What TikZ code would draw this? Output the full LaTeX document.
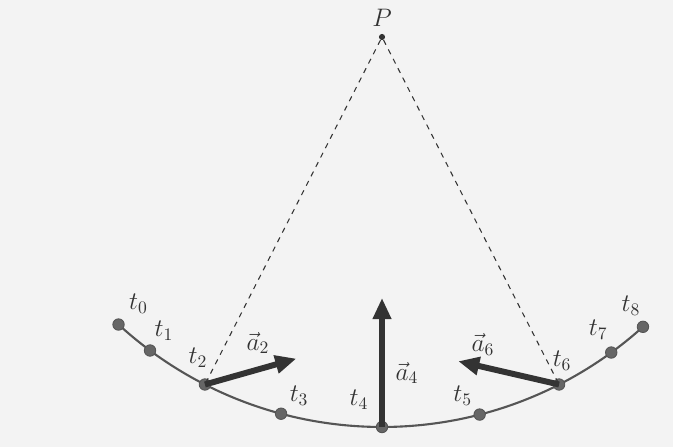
\documentclass[tikz,border=0pt]{standalone}
\usetikzlibrary{arrows.meta,calc}
\definecolor{paper}{HTML}{F3F3F3}
\definecolor{ink}{HTML}{333333}
\definecolor{arcgray}{HTML}{555555}
\definecolor{dotgray}{HTML}{666666}
\tikzset{
  every node/.style={font=\Large, text=ink},
  swing/.style={draw=arcgray, line width=1.2pt},
  dot/.style={circle, fill=dotgray, draw=arcgray, line width=0.5pt, inner sep=0pt, minimum size=6.5pt},
  pivot/.style={circle, fill=ink, inner sep=0pt, minimum size=3.5pt},
  guide/.style={draw=ink, dashed, line width=0.6pt},
  acc/.style={draw=ink, line width=3.4pt, -{Triangle[length=12pt, width=10pt]}},
  tlbl/.style={inner sep=1pt},
  vlbl/.style={inner sep=1pt},
}

\begin{document}
\begin{tikzpicture}
  \path[fill=paper, use as bounding box] (0,0) rectangle (13.46,8.94);

  \node[pivot] (P) at (7.64,8.2) {};
  \node[tlbl] (lP) at ($(P)+(0,0.38)$) {$P$};

  % swing arc, radius from the pivot
  \draw[swing] ($(P)+(227.5:7.8)$) arc[start angle=227.5, end angle=312, radius=7.8];

  \foreach \n/\ang/\dx/\dy in {0/-42.5/0.4/0.42, 1/-36.5/0.28/0.4, 2/-27/-0.14/0.54,
                               3/-15/0.36/0.36, 4/0/-0.46/0.54, 5/14.5/-0.34/0.38,
                               6/27/0.06/0.48, 7/36/-0.26/0.46, 8/42/-0.24/0.42} {
    \node[dot] (t\n) at ($(P)+(270+\ang:7.8)$) {};
    \node[tlbl] (l\n) at ($(t\n)+(\dx,\dy)$) {$t_{\n}$};
  }

  \draw[guide] (P) -- (t2.center);
  \draw[guide] (P) -- (t6.center);

  \coordinate (a2) at ($(t2)+(15.8:1.9)$);
  \coordinate (a4) at ($(t4)+(90:2.58)$);
  \coordinate (a6) at ($(t6)+(167:2.07)$);
  \draw[acc] (t2.center) -- (a2);
  \draw[acc] (t4.center) -- (a4);
  \draw[acc] (t6.center) -- (a6);

  \node[vlbl] (la2) at ($(t2)+(1.06,0.83)$) {$\vec{a}_2$};
  \node[vlbl] (la4) at ($(t4)+(0.5,1.08)$) {$\vec{a}_4$};
  \node[vlbl] (la6) at ($(t6)+(-1.52,0.8)$) {$\vec{a}_6$};
\end{tikzpicture}
\end{document}
